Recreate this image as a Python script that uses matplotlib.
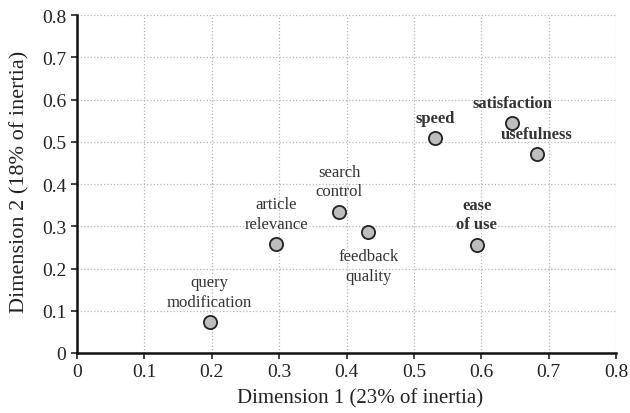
import numpy as np
import matplotlib
matplotlib.use('Agg')
import matplotlib.pyplot as plt

# point coordinates
labels = ['query\nmodification', 'article\nrelevance', 'search\ncontrol', 'feedback\nquality',
          'speed', 'satisfaction', 'usefulness', 'ease\nof use']
dim1 = [0.197, 0.296, 0.389, 0.432, 0.531, 0.646, 0.682, 0.593]
dim2 = [0.073, 0.258, 0.334, 0.287, 0.508, 0.544, 0.470, 0.256]
bold = [False, False, False, False, True, True, True, True]
below = [False, False, False, True, False, False, False, False]

x_ticks = [0, 0.1, 0.2, 0.3, 0.4, 0.5, 0.6, 0.7, 0.8]
x_ticklabels = ['0', '0.1', '0.2', '0.3', '0.4', '0.5', '0.6', '0.7', '0.8']
y_ticks = x_ticks
y_ticklabels = x_ticklabels

plt.rcParams['font.family'] = ['Liberation Serif', 'DejaVu Serif']

fig = plt.figure(figsize=(6.3, 4.14), dpi=100)
ax = fig.add_axes([0.122, 0.145, 0.856, 0.816])

ax.plot(dim1, dim2, 'o', markersize=9.5, markerfacecolor='#bdbdbd',
        markeredgecolor='#222222', markeredgewidth=1.3, zorder=3)

for lab, x, y, b, lo in zip(labels, dim1, dim2, bold, below):
    if lo:
        ax.annotate(lab, (x, y), xytext=(0, -12), textcoords='offset points',
                    ha='center', va='top', fontsize=12, color='#333333',
                    linespacing=1.3)
    else:
        ax.annotate(lab, (x, y), xytext=(0, 9), textcoords='offset points',
                    ha='center', va='bottom', fontsize=12, color='#333333',
                    fontweight='bold' if b else 'normal', linespacing=1.3)

ax.set_xlim(0, 0.8)
ax.set_ylim(0, 0.8)
ax.set_xticks(x_ticks)
ax.set_xticklabels(x_ticklabels)
ax.set_yticks(y_ticks)
ax.set_yticklabels(y_ticklabels)
ax.tick_params(labelsize=14, length=4, width=1.2, direction='out', colors='#222222')
ax.grid(True, linestyle=':', color='#b5b5b5', linewidth=0.9)
ax.set_axisbelow(True)
for s in ['top', 'right']:
    ax.spines[s].set_visible(False)
for s in ['left', 'bottom']:
    ax.spines[s].set_linewidth(1.8)
    ax.spines[s].set_color('#111111')

ax.set_xlabel('Dimension 1 (23% of inertia)', fontsize=15, color='#222222')
ax.set_ylabel('Dimension 2 (18% of inertia)', fontsize=16, color='#222222')
ax.xaxis.set_label_coords(0.525, -0.105)
ax.yaxis.set_label_coords(-0.087, 0.51)

fig.savefig('out.png', dpi=100)
